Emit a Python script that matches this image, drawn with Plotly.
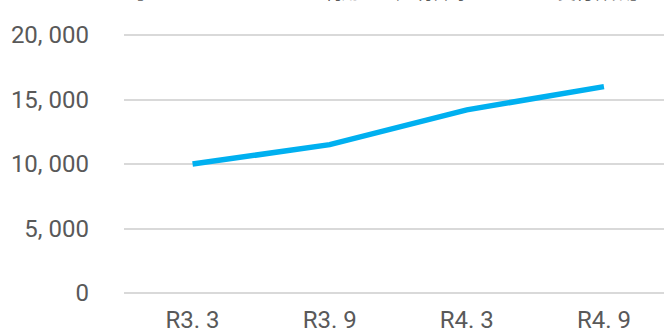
import plotly.graph_objects as go

categories = ["R3. 3", "R3. 9", "R4. 3", "R4. 9"]
values = [10000, 11500, 14200, 16000]
y_ticks = [0, 5000, 10000, 15000, 20000]
y_ticktext = [f"{v:,}".replace(",", ", ") for v in y_ticks]
title_text = "【マイナンバーカードを利用した証明書等のコンビニ交付件数】"

fig = go.Figure()
fig.add_trace(go.Scatter(
    x=categories, y=values, mode="lines",
    line=dict(color="#00B0F0", width=5.5, shape="linear"),
    hoverinfo="skip",
))

fig.update_layout(
    width=664, height=333,
    margin=dict(l=124, r=0, t=30, b=40, autoexpand=False),
    paper_bgcolor="white", plot_bgcolor="white",
    showlegend=False,
    font=dict(family="Roboto", color="#595959", size=24),
)
fig.add_annotation(
    text=title_text, xref="paper", yref="paper", x=0.487, y=1,
    xanchor="center", yanchor="bottom", yshift=24, showarrow=False,
    font=dict(family="Noto Sans CJK JP", size=18, color="#595959"),
)
fig.update_xaxes(
    type="category", range=[-0.5, 3.438], automargin=False,
    showgrid=False, showline=False, zeroline=False,
    ticks="", ticklabelstandoff=10,
)
fig.update_yaxes(
    range=[0, 20390], tickvals=y_ticks, ticktext=y_ticktext, automargin=False,
    showgrid=True, gridcolor="#d9d9d9", gridwidth=1.5,
    zeroline=True, zerolinecolor="#d9d9d9", zerolinewidth=1.5,
    showline=False, ticks="", ticklabelstandoff=34,
)

fig.write_html("out.html")
